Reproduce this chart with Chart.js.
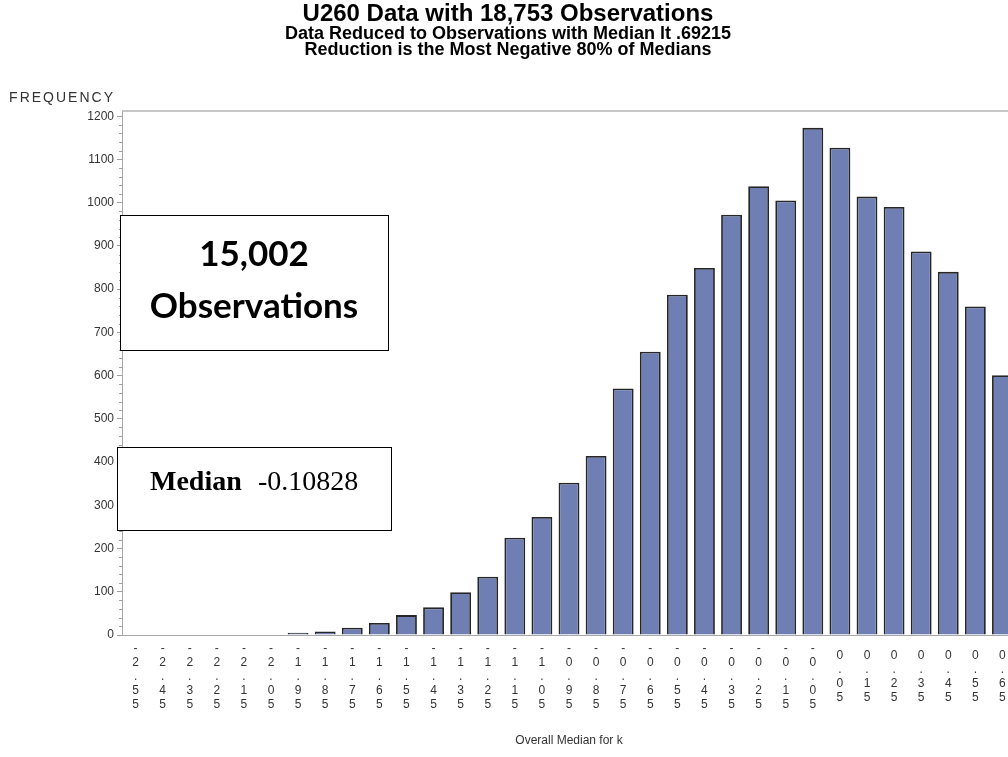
<!DOCTYPE html>
<html>
<head>
<meta charset="utf-8">
<script src="https://cdn.jsdelivr.net/npm/chart.js@4.4.0/dist/chart.umd.min.js"></script>
<style>
  html, body { margin: 0; padding: 0; background: #fff; overflow: hidden; }
  #wrap { width: 1030px; height: 757px; }
</style>
</head>
<body>
<div id="wrap"><canvas id="freqChart" width="1030" height="757"></canvas></div>
<script>
// bin midpoints of the overall median for k
const categories = [
  '-2.55', '-2.45', '-2.35', '-2.25', '-2.15', '-2.05', '-1.95', '-1.85', '-1.75', '-1.65', '-1.55',
  '-1.45', '-1.35', '-1.25', '-1.15', '-1.05', '-0.95', '-0.85', '-0.75', '-0.65', '-0.55', '-0.45',
  '-0.35', '-0.25', '-0.15', '-0.05', '0.05', '0.15', '0.25', '0.35', '0.45', '0.55', '0.65'
];
const frequencies = [
  0, 0, 0, 0, 0, 0, 5, 8, 17, 28, 46,
  64, 99, 135, 225, 273, 352, 414, 570, 655, 787, 849,
  972, 1038, 1005, 1173, 1127, 1014, 990, 887, 840, 760, 601
];
const yTicks = [0, 100, 200, 300, 400, 500, 600, 700, 800, 900, 1000, 1100, 1200];

const titleLines = ['U260 Data with 18,753 Observations'];
const subtitleLines = [
  'Data Reduced to Observations with Median lt .69215',
  'Reduction is the Most Negative 80% of Medians'
];
const yLabel = 'FREQUENCY';
const xLabel = 'Overall Median for k';
const countNote = ['15,002', 'Observations'];
const medianNote = ['Median', '-0.10828'];

const SANS = '"Liberation Sans", Arial, sans-serif';

// SAS style extras: frame line, minor ticks, axis caption and the two text boxes
const sasExtras = {
  id: 'sasExtras',
  afterDraw(chart) {
    const ctx = chart.ctx;
    const area = chart.chartArea;
    const y = chart.scales.y;
    ctx.save();

    // top frame line
    ctx.strokeStyle = '#b4b4b4';
    ctx.lineWidth = 1.5;
    ctx.beginPath();
    ctx.moveTo(area.left, area.top);
    ctx.lineTo(area.right + 20, area.top);
    ctx.stroke();

    // minor ticks, 4 between majors
    ctx.strokeStyle = '#a0a0a0';
    ctx.lineWidth = 1;
    ctx.beginPath();
    for (let i = 0; i < yTicks.length - 1; i++) {
      const step = (yTicks[i + 1] - yTicks[i]) / 5;
      for (let k = 1; k < 5; k++) {
        const py = Math.round(y.getPixelForValue(yTicks[i] + k * step)) + 0.5;
        ctx.moveTo(area.left - 3, py);
        ctx.lineTo(area.left, py);
      }
    }
    ctx.stroke();

    // y caption
    ctx.fillStyle = '#333';
    ctx.font = '14px ' + SANS;
    ctx.letterSpacing = '2px';
    ctx.textAlign = 'right';
    ctx.textBaseline = 'middle';
    ctx.fillText(yLabel, 115, 98);
    ctx.letterSpacing = '0px';

    // observations box
    ctx.strokeStyle = '#000';
    ctx.lineWidth = 1;
    ctx.fillStyle = '#fff';
    ctx.fillRect(120.5, 215.5, 268, 135);
    ctx.strokeRect(120.5, 215.5, 268, 135);
    ctx.fillStyle = '#000';
    ctx.textAlign = 'center';
    ctx.textBaseline = 'alphabetic';
    ctx.font = 'bold 35px Lato, "Open Sans", sans-serif';
    ctx.fillText(countNote[0], 254, 266);
    ctx.fillText(countNote[1], 254, 318);

    // median box
    ctx.fillStyle = '#fff';
    ctx.fillRect(117.5, 447.5, 274, 83);
    ctx.strokeRect(117.5, 447.5, 274, 83);
    ctx.fillStyle = '#000';
    ctx.textAlign = 'left';
    ctx.font = 'bold 28px "Liberation Serif", "Times New Roman", serif';
    ctx.fillText(medianNote[0], 150, 490);
    ctx.font = '28px "Liberation Serif", "Times New Roman", serif';
    ctx.fillText(medianNote[1], 258, 490);

    ctx.restore();
  }
};

document.addEventListener('DOMContentLoaded', () => {
  const ctx = document.getElementById('freqChart');
  new Chart(ctx, {
    type: 'bar',
    data: {
      labels: categories,
      datasets: [{
        label: 'Frequency',
        data: frequencies,
        backgroundColor: '#6f7eb3',
        borderColor: '#262626',
        borderWidth: 1.8,
        barPercentage: 0.77,
        categoryPercentage: 1.0
      }]
    },
    options: {
      responsive: false,
      animation: false,
      layout: { padding: { top: 3, left: 0, right: 14, bottom: 0 } },
      plugins: {
        legend: { display: false },
        tooltip: { enabled: false },
        title: {
          display: true,
          text: titleLines,
          color: '#000',
          font: { family: SANS, size: 24, weight: 'bold', lineHeight: '22px' },
          padding: { top: 0, bottom: 0 }
        },
        subtitle: {
          display: true,
          text: subtitleLines,
          color: '#000',
          font: { family: SANS, size: 18, weight: 'bold', lineHeight: '16px' },
          padding: { top: 1, bottom: 53 }
        }
      },
      scales: {
        x: {
          grid: { display: false },
          border: { display: true, color: '#a8a8a8', width: 1 },
          ticks: {
            autoSkip: false,
            maxRotation: 0,
            minRotation: 0,
            crossAlign: 'center',
            padding: 6,
            color: '#333',
            font: { family: SANS, size: 12, lineHeight: '14px' },
            callback: (v, i) => categories[i].split('')
          },
          title: {
            display: true,
            text: xLabel,
            color: '#333',
            font: { family: SANS, size: 12 },
            padding: { top: 4, bottom: 9 }
          },
          afterFit: (scale) => { scale.height = 122; }
        },
        y: {
          min: 0,
          max: 1212,
          afterBuildTicks: (scale) => { scale.ticks = yTicks.map(v => ({ value: v })); },
          grid: { drawOnChartArea: false, drawTicks: true, tickLength: 5, tickColor: '#a0a0a0' },
          border: { display: true, color: '#a8a8a8', width: 1 },
          ticks: {
            padding: 3,
            color: '#333',
            font: { family: SANS, size: 12 },
            callback: (v) => String(v)
          },
          afterFit: (scale) => { scale.width = 122; }
        }
      }
    },
    plugins: [sasExtras]
  });
});
</script>
</body>
</html>
